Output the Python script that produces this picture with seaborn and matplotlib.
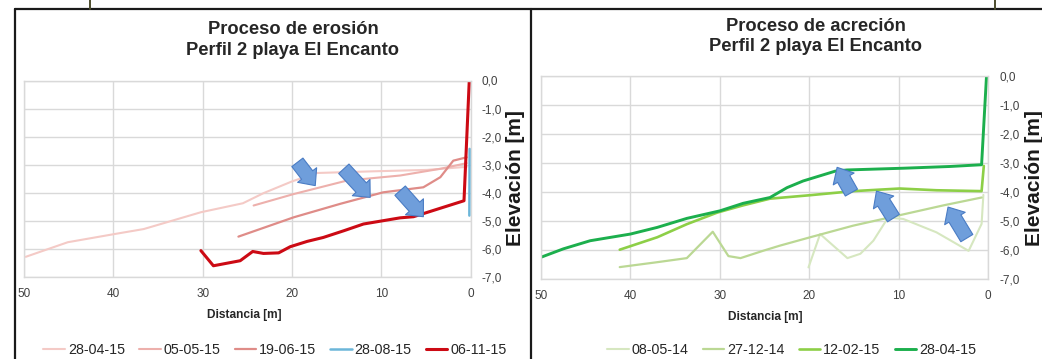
import matplotlib
matplotlib.use("Agg")
import matplotlib.pyplot as plt
import seaborn as sns
import pandas as pd
from matplotlib.lines import Line2D

# ---------------- data: erosion chart (left) ----------------
ero_labels = ["28-04-15", "05-05-15", "19-06-15", "28-08-15", "06-11-15"]
ero_colors = ["#f4cac6", "#edb0ac", "#df8c88", "#6cb6d9", "#cc0a14"]
ero_widths = [1.5, 1.5, 1.6, 1.8, 2.2]

ero_280415_x = [49.8, 45.1, 39.9, 36.6, 30.2, 25.5, 23.2, 20.0, 17.2, 10.9, 4.9, 0.45]
ero_280415_y = [-6.29, -5.77, -5.48, -5.30, -4.70, -4.38, -4.02, -3.60, -3.30, -3.24, -3.19, -3.08]

ero_050515_x = [24.3, 19.8, 13.85, 7.9, 3.4, 0.45]
ero_050515_y = [-4.46, -4.05, -3.57, -3.39, -3.15, -2.95]

ero_190615_x = [26.0, 19.8, 14.6, 9.8, 5.3, 3.4, 1.95, 0.45]
ero_190615_y = [-5.57, -4.88, -4.40, -3.99, -3.81, -3.45, -2.86, -2.74]

ero_280815_x = [0.12, 0.15]
ero_280815_y = [-2.44, -4.82]

ero_061115_x = [30.2, 28.8, 25.8, 24.4, 23.2, 21.5, 20.2, 18.3, 16.5, 14.2, 12.0, 7.9, 6.4, 0.75, 0.16]
ero_061115_y = [-6.07, -6.61, -6.43, -6.10, -6.17, -6.15, -5.93, -5.74, -5.60, -5.36, -5.12, -4.90, -4.86, -4.29, 0.0]

# ---------------- data: accretion chart (right) ----------------
acr_labels = ["08-05-14", "27-12-14", "12-02-15", "28-04-15"]
acr_colors = ["#d6e7c0", "#bbd894", "#8dcf47", "#1caf4d"]
acr_widths = [1.5, 1.6, 1.9, 2.1]

acr_080514_x = [20.1, 18.8, 15.75, 14.3, 12.85, 11.2, 9.5, 5.8, 2.2, 0.75, 0.55]
acr_080514_y = [-6.60, -5.45, -6.28, -6.13, -5.68, -4.88, -4.93, -5.39, -6.03, -5.10, -4.10]

acr_271214_x = [41.2, 37.0, 33.7, 30.8, 29.05, 27.7, 25.1, 23.3, 19.9, 15.1, 10.2, 5.0, 0.75]
acr_271214_y = [-6.59, -6.42, -6.28, -5.37, -6.21, -6.28, -6.02, -5.85, -5.56, -5.16, -4.82, -4.46, -4.19]

acr_120215_x = [41.2, 37.0, 33.7, 30.3, 27.4, 24.4, 19.9, 15.1, 9.9, 5.8, 0.75, 0.5]
acr_120215_y = [-5.99, -5.56, -5.11, -4.71, -4.46, -4.23, -4.11, -3.97, -3.88, -3.94, -3.97, -3.10]

acr_280415_x = [50.0, 47.5, 44.5, 40.0, 37.0, 33.7, 30.0, 27.4, 24.4, 22.5, 20.7, 17.1, 15.8, 9.5, 4.3, 0.75, 0.2]
acr_280415_y = [-6.25, -5.96, -5.68, -5.45, -5.22, -4.91, -4.65, -4.39, -4.19, -3.85, -3.62, -3.28, -3.24, -3.18, -3.12, -3.06, 0.0]

# annotation arrows (tail -> tip), in data units
ero_arrows = [((19.4, -2.92), (17.4, -3.75)), ((14.2, -3.15), (11.25, -4.17)), ((7.9, -3.93), (5.3, -4.86))]
acr_arrows = [((15.3, -4.02), (16.9, -3.15)), ((10.6, -4.90), (12.5, -3.97)), ((2.4, -5.59), (4.5, -4.52))]

x_ticks = [50, 40, 30, 20, 10, 0]
y_ticks = [0, -1, -2, -3, -4, -5, -6, -7]

# ---------------- figure ----------------
W, H = 1042, 359
sns.set_theme(style="white")
plt.rcParams["font.family"] = ["Liberation Sans", "DejaVu Sans"]

fig = plt.figure(figsize=(W / 100, H / 100), dpi=100)
fig.patch.set_facecolor("white")


def fx(px):
    return px / W


def fy(py):
    return 1 - py / H


def add_ax(l, r, t, b):
    return fig.add_axes([fx(l), fy(b), fx(r) - fx(l), fy(t) - fy(b)])


GRID = "#d9d9d9"


def style_axis(ax):
    ax.set_xlim(50, 0)
    ax.set_ylim(-7, 0)
    ax.set_xticks(x_ticks)
    ax.set_xticklabels([str(v) for v in x_ticks])
    ax.set_yticks(y_ticks)
    ax.set_yticklabels([("%.1f" % v).replace(".", ",").replace("-0,0", "0,0") for v in y_ticks])
    ax.yaxis.tick_right()
    ax.tick_params(axis="both", length=0, labelsize=8.5, colors="#404040")
    ax.tick_params(axis="y", pad=8)
    ax.tick_params(axis="x", pad=8)
    ax.grid(True, color=GRID, lw=1.0)
    ax.set_axisbelow(True)
    for s in ax.spines.values():
        s.set_color(GRID)
        s.set_linewidth(1.0)
    ax.set_xlabel("")
    ax.set_ylabel("")


def draw_arrows(ax, arrows):
    for tail, tip in arrows:
        ax.annotate("", xy=tip, xytext=tail,
                    arrowprops=dict(arrowstyle="simple,head_length=0.4,head_width=0.72,tail_width=0.42",
                                    mutation_scale=24, fc="#6f9edb", ec="#4a7cc4", lw=0.8,
                                    shrinkA=0, shrinkB=0),
                    zorder=10)


# left axes
axL = add_ax(24, 470.7, 80.5, 276.7)
ero_x = [ero_280415_x, ero_050515_x, ero_190615_x, ero_280815_x, ero_061115_x]
ero_y = [ero_280415_y, ero_050515_y, ero_190615_y, ero_280815_y, ero_061115_y]
for xs, ys, lab, col, lw in zip(ero_x, ero_y, ero_labels, ero_colors, ero_widths):
    df = pd.DataFrame({"Distancia": xs, "Elevacion": ys})
    sns.lineplot(data=df, x="Distancia", y="Elevacion", ax=axL, color=col, lw=lw,
                 sort=False, estimator=None, label=lab)
style_axis(axL)
draw_arrows(axL, ero_arrows)
hL = [Line2D([0], [0], color=c, lw=w) for c, w in zip(ero_colors, ero_widths)]
axL.legend(hL, ero_labels, loc="center", bbox_to_anchor=(fx(275), fy(350.5)),
           bbox_transform=fig.transFigure, ncol=5, frameon=False, fontsize=10.3,
           handlelength=1.5, handletextpad=0.2, columnspacing=1.0, labelcolor="#262626")

# right axes
axR = add_ax(541, 988.3, 76, 279)
acr_x = [acr_080514_x, acr_271214_x, acr_120215_x, acr_280415_x]
acr_y = [acr_080514_y, acr_271214_y, acr_120215_y, acr_280415_y]
for xs, ys, lab, col, lw in zip(acr_x, acr_y, acr_labels, acr_colors, acr_widths):
    df = pd.DataFrame({"Distancia": xs, "Elevacion": ys})
    sns.lineplot(data=df, x="Distancia", y="Elevacion", ax=axR, color=col, lw=lw,
                 sort=False, estimator=None, label=lab)
style_axis(axR)
draw_arrows(axR, acr_arrows)
hR = [Line2D([0], [0], color=c, lw=w) for c, w in zip(acr_colors, acr_widths)]
axR.legend(hR, acr_labels, loc="center", bbox_to_anchor=(fx(791.5), fy(350.5)),
           bbox_transform=fig.transFigure, ncol=4, frameon=False, fontsize=10.3,
           handlelength=1.5, handletextpad=0.2, columnspacing=1.0, labelcolor="#262626")

# titles
fig.text(fx(293), fy(40), "Proceso de erosión\nPerfil 2 playa El Encanto", ha="center", va="center",
         fontsize=13.2, fontweight="bold", linespacing=1.28, color="#262626")
fig.text(fx(815.5), fy(36.5), "Proceso de acreción\nPerfil 2 playa El Encanto", ha="center", va="center",
         fontsize=13.2, fontweight="bold", linespacing=1.28, color="#262626")

# axis titles
fig.text(fx(244.5), fy(315), "Distancia [m]", ha="center", va="center", fontsize=8.6,
         fontweight="bold", color="#262626")
fig.text(fx(765), fy(316.7), "Distancia [m]", ha="center", va="center", fontsize=8.6,
         fontweight="bold", color="#262626")
fig.text(fx(515.5), fy(178), "Elevación [m]", ha="center", va="center", rotation=90,
         fontsize=15, fontweight="bold", color="#1a1a1a")
fig.text(fx(1034), fy(178), "Elevación [m]", ha="center", va="center", rotation=90,
         fontsize=15, fontweight="bold", color="#1a1a1a")

# document frame lines
frame = dict(color="#1a1a1a", lw=1.6, transform=fig.transFigure)
fig.add_artist(Line2D([fx(15), fx(15)], [fy(9), fy(359)], **frame))
fig.add_artist(Line2D([fx(15), fx(1042)], [fy(9), fy(9)], **frame))
fig.add_artist(Line2D([fx(530.5), fx(530.5)], [fy(9), fy(359)], **frame))
cell = dict(color="#4d4d2e", lw=1.4, transform=fig.transFigure)
fig.add_artist(Line2D([fx(90), fx(90)], [fy(0), fy(9)], **cell))
fig.add_artist(Line2D([fx(995), fx(995)], [fy(0), fy(9)], **cell))

fig.savefig("out.png", dpi=100, facecolor="white")
